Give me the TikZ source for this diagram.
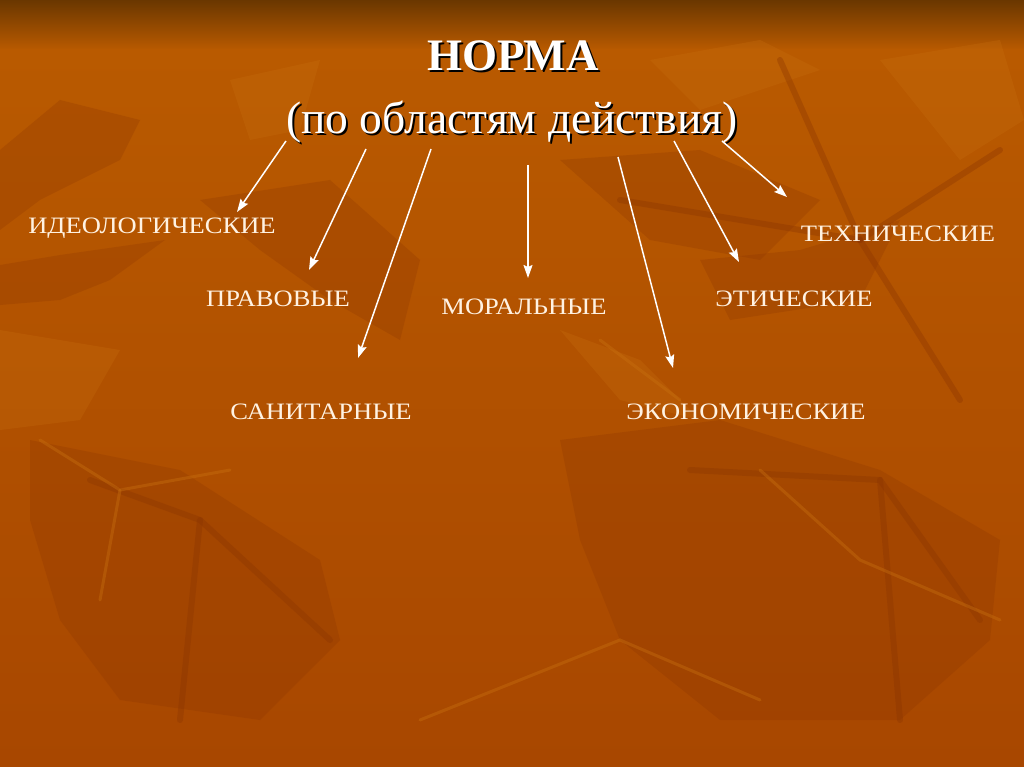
\documentclass[tikz,border=0pt]{standalone}
\usepackage{fontspec}
\setmainfont{Liberation Serif}
\newfontfamily\labfont{Liberation Serif}[FakeStretch=1.13]
\usetikzlibrary{arrows.meta}
\definecolor{bgtop}{HTML}{6A3700}
\definecolor{bgmid}{HTML}{B95A00}
\definecolor{bgbot}{HTML}{A84700}
\definecolor{leafdark}{HTML}{8A3400}
\definecolor{leaflight}{HTML}{C87010}
\definecolor{labcol}{HTML}{FFF2E2}
\tikzset{
  lab/.style={text=labcol, font=\labfont\fontsize{23.5}{25}\selectfont, inner sep=0pt, anchor=center},
  arr/.style={draw=white, line width=1.5pt, -{Stealth[length=13pt,width=9pt,inset=2pt]}},
  leaf/.style={fill=leafdark, opacity=0.25, draw=none},
  leafl/.style={fill=leaflight, opacity=0.28, draw=none},
  vein/.style={draw=leafdark, opacity=0.35, line width=6pt, line cap=round},
  veinl/.style={draw=leaflight, opacity=0.4, line width=3pt, line cap=round}
}
\begin{document}
\begin{tikzpicture}[x=1pt,y=-1pt]
\useasboundingbox (0,0) rectangle (1024,767);
% background
\shade[top color=bgtop, bottom color=bgmid] (0,0) rectangle (1024,50);
\shade[top color=bgmid, bottom color=bgbot] (0,50) rectangle (1024,767);
% leaves (decorative background)
\fill[leaf] (0,265) -- (60,255) -- (165,240) -- (110,280) -- (60,300) -- (0,305) -- cycle;
\fill[leaf] (0,150) -- (60,100) -- (140,120) -- (120,160) -- (40,200) -- (0,230) -- cycle;
\fill[leaf] (200,200) -- (330,180) -- (420,260) -- (400,340) -- (330,300) -- (260,250) -- cycle;
\fill[leaf] (560,160) -- (700,150) -- (820,200) -- (760,260) -- (650,240) -- cycle;
\fill[leaf] (700,260) -- (800,250) -- (900,220) -- (860,300) -- (730,320) -- cycle;
\fill[leaf] (30,440) -- (180,470) -- (320,560) -- (340,640) -- (260,720) -- (120,700) -- (60,620) -- (30,520) -- cycle;
\fill[leaf] (560,440) -- (720,420) -- (880,470) -- (1000,540) -- (990,640) -- (900,720) -- (720,720) -- (620,640) -- (580,540) -- cycle;
\fill[leafl] (230,80) -- (320,60) -- (300,130) -- (250,140) -- cycle;
\fill[leafl] (650,60) -- (760,40) -- (820,70) -- (700,110) -- cycle;
\fill[leafl] (560,330) -- (640,360) -- (700,420) -- (620,400) -- cycle;
\fill[leafl] (0,330) -- (120,350) -- (80,420) -- (0,430) -- cycle;
\fill[leafl] (880,60) -- (1000,40) -- (1024,120) -- (960,160) -- cycle;
\draw[vein] (780,60) -- (860,240) -- (960,400);
\draw[vein] (860,240) -- (1000,150);
\draw[vein] (620,200) -- (860,240);
\draw[vein] (90,480) -- (200,520) -- (330,640);
\draw[vein] (200,520) -- (180,720);
\draw[vein] (690,470) -- (880,480) -- (980,620);
\draw[vein] (880,480) -- (900,720);
\draw[veinl] (40,440) -- (120,490) -- (230,470);
\draw[veinl] (120,490) -- (100,600);
\draw[veinl] (600,340) -- (680,400);
\draw[veinl] (760,470) -- (860,560) -- (1000,620);
\draw[veinl] (420,720) -- (620,640) -- (760,700);
% title
\node[text=black, font=\bfseries\fontsize{45}{48}\selectfont, inner sep=0pt] at (515,58) {НОРМА};
\node (title) [text=white, font=\bfseries\fontsize{45}{48}\selectfont, inner sep=0pt] at (513,56) {НОРМА};
\node[text=black, font=\fontsize{45.5}{48}\selectfont, inner sep=0pt] at (514,124) {(по областям действия)};
\node (sub) [text=white, font=\fontsize{45.5}{48}\selectfont, inner sep=0pt] at (512,122) {(по областям действия)};
% labels
\node[lab] (ideo) at (152,228) {ИДЕОЛОГИЧЕСКИЕ};
\node[lab] (prav) at (278,299) {ПРАВОВЫЕ};
\node[lab] (moral) at (524,307) {МОРАЛЬНЫЕ};
\node[lab] (sanit) at (321,412) {САНИТАРНЫЕ};
\node[lab] (econ) at (746,412) {ЭКОНОМИЧЕСКИЕ};
\node[lab] (etic) at (794,299) {ЭТИЧЕСКИЕ};
\node[lab] (tech) at (898,234) {ТЕХНИЧЕСКИЕ};
% arrow endpoints
\coordinate (s1) at (286,141); \coordinate (e1) at (237,212);
\coordinate (s2) at (366,149); \coordinate (e2) at (309,270);
\coordinate (s3) at (431,149); \coordinate (e3) at (358,358);
\coordinate (s4) at (528,165); \coordinate (e4) at (528,278);
\coordinate (s5) at (618,157); \coordinate (e5) at (673,368);
\coordinate (s6) at (674,141); \coordinate (e6) at (739,262);
\coordinate (s7) at (722,141); \coordinate (e7) at (787,197);
\draw[arr] (s1) -- (e1);
\draw[arr] (s2) -- (e2);
\draw[arr] (s3) -- (e3);
\draw[arr] (s4) -- (e4);
\draw[arr] (s5) -- (e5);
\draw[arr] (s6) -- (e6);
\draw[arr] (s7) -- (e7);
\end{tikzpicture}
\end{document}
